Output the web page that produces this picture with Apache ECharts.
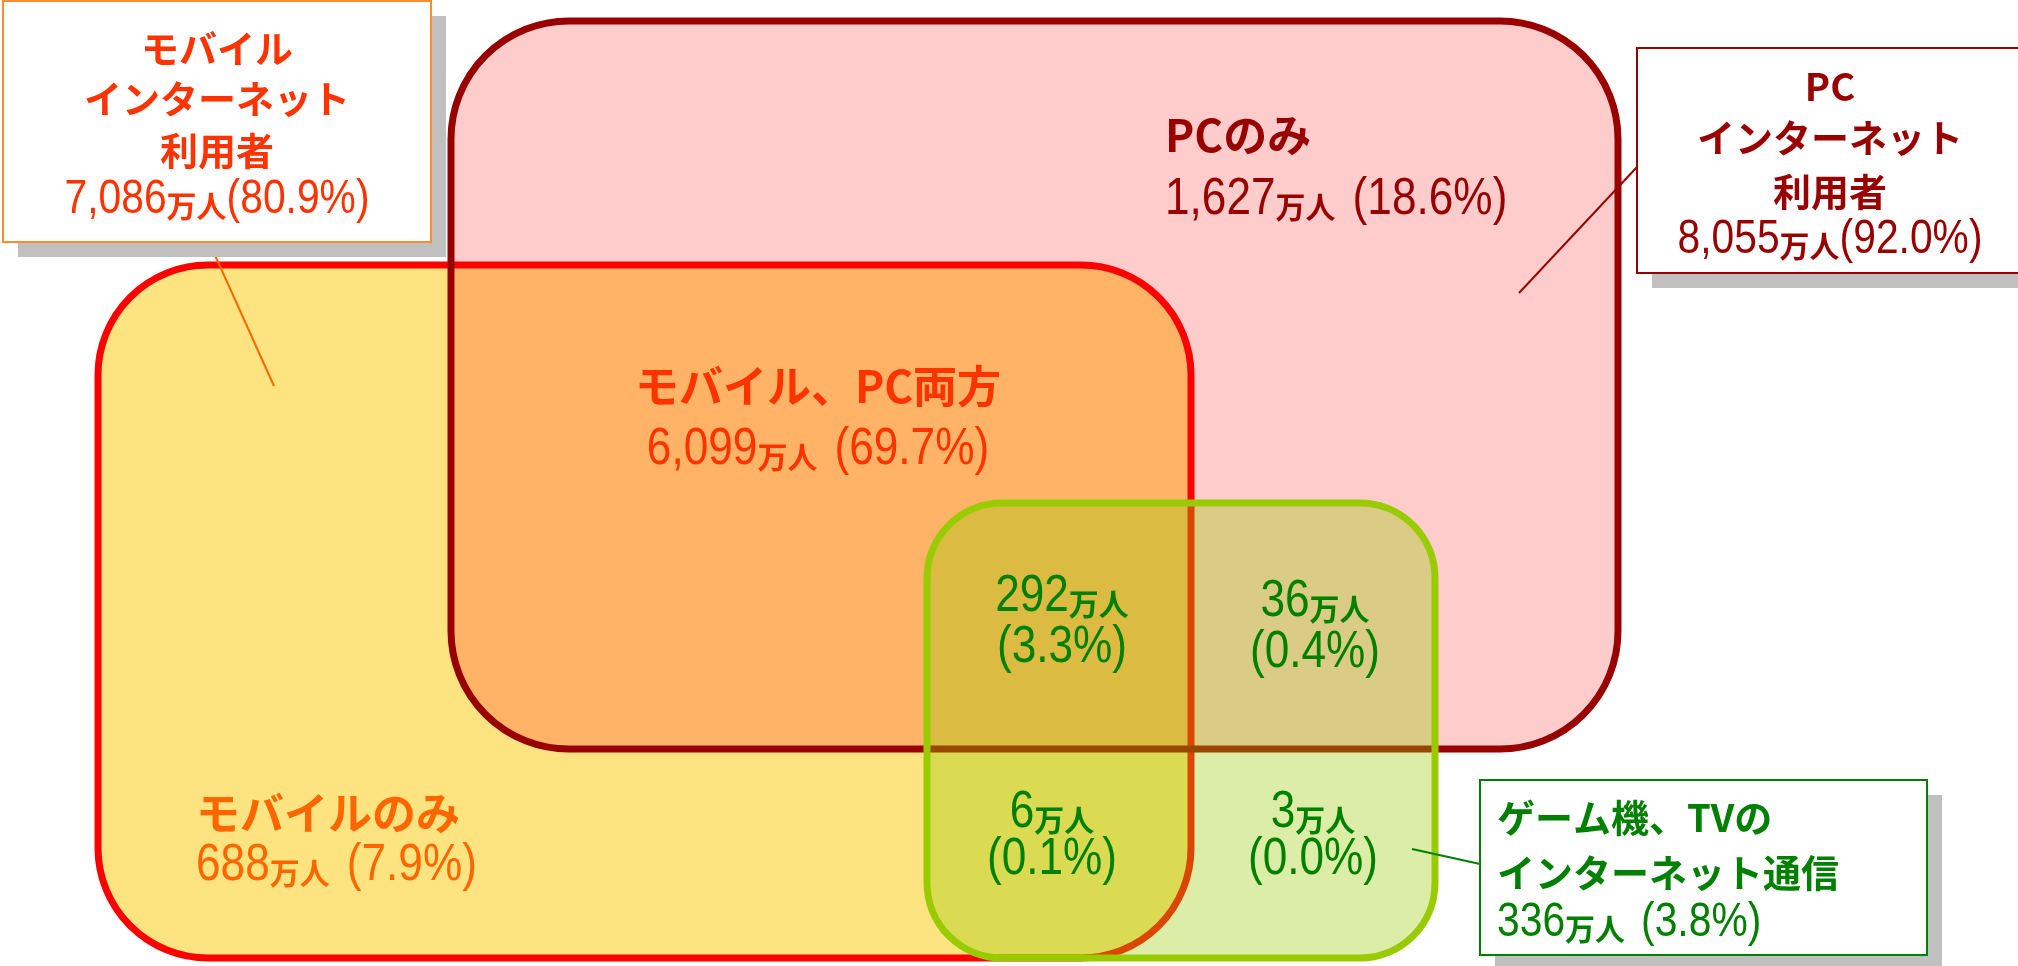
<!DOCTYPE html>
<html><head><meta charset="utf-8">
<script src="https://cdn.jsdelivr.net/npm/echarts@6/dist/echarts.min.js"></script>
<style>html,body{margin:0;padding:0;background:#fff;overflow:hidden}#c{width:2018px;height:966px}</style>
</head><body><div id="c"></div>
<script>
// ---------------- data ----------------
const setNames = ['モバイル\nインターネット\n利用者', 'PC\nインターネット\n利用者', 'ゲーム機、TVの\nインターネット通信'];
const setValues = [7086, 8055, 336];          // 万人
const setPercents = [80.9, 92.0, 3.8];        // %
const segmentNames = ['PCのみ', 'モバイル、PC両方', 'モバイルのみ', '', '', '', ''];
const segmentValues = [1627, 6099, 688, 292, 36, 6, 3];     // 万人
const segmentPercents = [18.6, 69.7, 7.9, 3.3, 0.4, 0.1, 0.0];

// ---------------- layout (diagram space, same units as the hidden axes) ----------------
const W = 2018, H = 966;
const RECTS = [
  {x0: 98,  y0: 265, x1: 1191, y1: 958, r: 110, fill: '#FDE480', stroke: '#FF0000'},  // mobile
  {x0: 451, y0: 21,  x1: 1618, y1: 749, r: 118, fill: '#FFCCCC', stroke: '#990000'},  // PC
  {x0: 927, y0: 503, x1: 1435, y1: 958, r: 75,  fill: 'rgba(153,204,0,0.35)', stroke: '#99CC00'} // game
];
const STROKE_W = 7;
const BOXES = [
  {x0: 3, y0: 1, x1: 431, y1: 242, border: '#FF8C2A', color: '#FF3300', cx: 217, lines: [49, 99, 151, 200], align: 'center', gap: 0,
   leader: [[200, 222], [274, 386]], leaderColor: '#FF6600'},
  {x0: 1637, y0: 48, x1: 2023, y1: 273, border: '#990000', color: '#990000', cx: 1830, lines: [87, 138, 192, 240], align: 'center', gap: 0,
   leader: [[1637, 167], [1519, 293]], leaderColor: '#990000'},
  {x0: 1480, y0: 780, x1: 1927, y1: 955, border: '#008000', color: '#008000', cx: 1497, lines: [818, 873, 923], align: 'left', gap: 16,
   leader: [[1412, 849], [1480, 864]], leaderColor: '#008000'}
];
const SHADOW = 15;
const SEG_POS = [
  {x: 1165, y: [135, 200], align: 'left',   color: '#990000'},
  {x: 818,  y: [386, 450], align: 'center', color: '#FF3300'},
  {x: 196,  y: [813, 866], align: 'left',   color: '#FF6600'},
  {x: 1062, y: [597, 648], align: 'center', color: '#008000'},
  {x: 1315, y: [602, 653], align: 'center', color: '#008000'},
  {x: 1052, y: [813, 860], align: 'center', color: '#008000'},
  {x: 1313, y: [813, 860], align: 'center', color: '#008000'}
];

const CJK = '"Noto Sans CJK JP", "Noto Sans", sans-serif';
const NUM = '"Liberation Sans", Arial, sans-serif';
const FONT = {
  title: {family: CJK, weight: 'bold', size: 38},
  segTitle: {family: CJK, weight: 'bold', size: 44},
  n: {family: NUM, weight: 'normal', size: 48, sx: 0.85},   // numbers in callout boxes
  m: {family: NUM, weight: 'normal', size: 52, sx: 0.85},   // numbers inside the diagram
  u: {family: CJK, weight: 'bold', size: 30, sx: 1}
};
const measureCtx = document.createElement('canvas').getContext('2d');
function cssFont(f) { return f.weight + ' ' + f.size + 'px ' + f.family; }
function measure(text, f) { measureCtx.font = cssFont(f); return measureCtx.measureText(text).width * (f.sx || 1); }
const fmt = v => v.toLocaleString('en-US');

// a line of [number][万人][gap][(pct%)] laid out token by token
function numberTokens(api, x, y, align, color, parts) {
  let total = 0;
  parts.forEach(p => { p.w = measure(p.t, FONT[p.k]); total += (p.gap || 0) + p.w; });
  const pos = api.coord([x, y]);
  const nSize = FONT[(parts.find(p => p.k !== 'u') || {k: 'n'}).k].size;
  let cx = align === 'center' ? pos[0] - total / 2 : pos[0];
  const els = [];
  parts.forEach(p => {
    cx += p.gap || 0;
    const f = FONT[p.k];
    const dy = p.k === 'u' ? (0.35 * nSize - 0.38 * f.size) : 0;
    els.push({type: 'text', z2: 10, x: cx, y: pos[1] + dy, scaleX: f.sx || 1,
      style: {x: 0, y: 0, text: p.t, fill: color, font: cssFont(f), align: 'left', verticalAlign: 'middle'}});
    cx += p.w;
  });
  return els;
}
function valueParts(v, p, gap, k) {
  return [{t: fmt(v), k: k}, {t: '万人', k: 'u'}, {t: '(' + p.toFixed(1) + '%)', k: k, gap: gap}];
}
function titleEl(api, x, y, text, align, color, f) {
  const p = api.coord([x, y]);
  return {type: 'text', z2: 10, style: {x: p[0], y: p[1], text: text, fill: color, font: cssFont(f), align: align, verticalAlign: 'middle'}};
}
function rectShape(api, R, rr) {
  const a = api.coord([R.x0, R.y0]), b = api.coord([R.x1, R.y1]);
  return {x: a[0], y: a[1], width: b[0] - a[0], height: b[1] - a[1], r: rr === undefined ? R.r : rr};
}

const option = {
  animation: false,
  backgroundColor: '#ffffff',
  grid: {left: 0, right: 0, top: 0, bottom: 0, containLabel: false},
  xAxis: {type: 'value', min: 0, max: W, show: false},
  yAxis: {type: 'value', min: 0, max: H, inverse: true, show: false},
  series: [
    { // fills of mobile & PC sets
      type: 'custom', z: 1, silent: true,
      data: [0, 1].map(i => ({name: setNames[i], value: [i, setValues[i]]})),
      renderItem: function (params, api) {
        const R = RECTS[params.dataIndex];
        return {type: 'rect', shape: rectShape(api, R), style: {fill: R.fill}};
      }
    },
    { // overlap mobile ∩ PC
      type: 'custom', z: 2, silent: true,
      data: [{name: segmentNames[1], value: [1, segmentValues[1]]}],
      renderItem: function (params, api) {
        const M = RECTS[0], P = RECTS[1];
        const R = {x0: P.x0, y0: M.y0, x1: M.x1, y1: P.y1};
        return {type: 'rect', shape: rectShape(api, R, [0, M.r, 0, P.r]), style: {fill: '#FFB366'}};
      }
    },
    { // outlines of mobile & PC
      type: 'custom', z: 3, silent: true,
      data: [0, 1].map(i => ({name: setNames[i], value: [i, setValues[i]]})),
      renderItem: function (params, api) {
        const R = RECTS[params.dataIndex];
        return {type: 'rect', shape: rectShape(api, R), style: {fill: 'none', stroke: R.stroke, lineWidth: STROKE_W}};
      }
    },
    { // game / TV set (semi-transparent)
      type: 'custom', z: 4, silent: true,
      data: [{name: setNames[2], value: [2, setValues[2]]}],
      renderItem: function (params, api) {
        const R = RECTS[2];
        return {type: 'rect', shape: rectShape(api, R), style: {fill: R.fill, stroke: R.stroke, lineWidth: STROKE_W}};
      }
    },
    { // callout boxes with totals
      type: 'custom', z: 5, silent: true,
      data: setNames.map((n, i) => ({name: n, value: [i, setValues[i], setPercents[i]]})),
      renderItem: function (params, api) {
        const i = params.dataIndex, B = BOXES[i];
        const s = {x0: B.x0 + SHADOW, y0: B.y0 + SHADOW, x1: B.x1 + SHADOW, y1: B.y1 + SHADOW};
        const la = api.coord(B.leader[0]), lb = api.coord(B.leader[1]);
        let kids = [
          {type: 'line', z2: 1, shape: {x1: la[0], y1: la[1], x2: lb[0], y2: lb[1]}, style: {stroke: B.leaderColor, lineWidth: 2}},
          {type: 'rect', z2: 2, shape: rectShape(api, s, 0), style: {fill: '#C0C0C0'}},
          {type: 'rect', z2: 3, shape: rectShape(api, B, 0), style: {fill: '#ffffff', stroke: B.border, lineWidth: 2}}
        ];
        const titles = setNames[i].split('\n');
        titles.forEach((t, k) => kids.push(titleEl(api, B.cx, B.lines[k], t, B.align, B.color, FONT.title)));
        kids = kids.concat(numberTokens(api, B.cx, B.lines[titles.length], B.align, B.color,
          valueParts(setValues[i], setPercents[i], B.gap, 'n')));
        return {type: 'group', children: kids};
      }
    },
    { // segment labels
      type: 'custom', z: 6, silent: true,
      data: segmentNames.map((n, i) => ({name: n, value: [i, segmentValues[i], segmentPercents[i]]})),
      renderItem: function (params, api) {
        const i = params.dataIndex, S = SEG_POS[i];
        let kids = [];
        if (segmentNames[i]) {
          kids.push(titleEl(api, S.x, S.y[0], segmentNames[i], S.align, S.color, FONT.segTitle));
          kids = kids.concat(numberTokens(api, S.x, S.y[1], S.align, S.color, valueParts(segmentValues[i], segmentPercents[i], 17, 'm')));
        } else {
          kids = kids.concat(numberTokens(api, S.x, S.y[0], S.align, S.color, [{t: fmt(segmentValues[i]), k: 'm'}, {t: '万人', k: 'u'}]));
          kids = kids.concat(numberTokens(api, S.x, S.y[1], S.align, S.color, [{t: '(' + segmentPercents[i].toFixed(1) + '%)', k: 'm'}]));
        }
        return {type: 'group', children: kids};
      }
    }
  ]
};
const chart = echarts.init(document.getElementById('c'), null, {renderer: 'canvas'});
chart.setOption(option);
</script></body></html>
